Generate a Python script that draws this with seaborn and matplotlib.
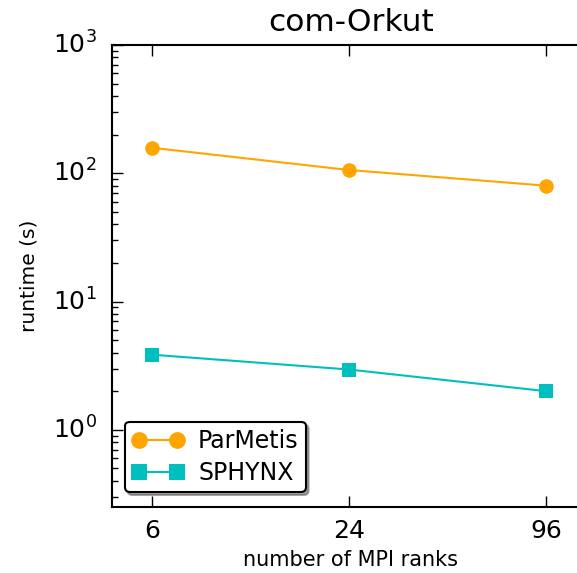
import matplotlib
matplotlib.use("Agg")
import matplotlib.pyplot as plt
import seaborn as sns
import pandas as pd
from matplotlib.ticker import FixedLocator, FixedFormatter, NullLocator, LogLocator

ranks = [6, 24, 96]
parmetis = [158, 106, 80]
sphynx = [3.85, 2.95, 2.0]
tick_labels = ["6", "24", "96"]

plt.style.use("classic")
plt.rcParams["font.family"] = ["DejaVu Sans"]

df = pd.DataFrame({
    "ranks": ranks * 2,
    "runtime": parmetis + sphynx,
    "method": ["ParMetis"] * 3 + ["SPHYNX"] * 3,
})

fig = plt.figure(figsize=(5.77, 5.73), dpi=100)
fig.patch.set_facecolor("white")
# axes extends past the right edge of the figure (right spine not visible)
ax = fig.add_axes([0.194, 0.1152, 478 / 577, 0.8063])

sns.lineplot(data=df, x="ranks", y="runtime", hue="method", style="method",
             palette={"ParMetis": "#FFA500", "SPHYNX": "#00BFBF"},
             markers={"ParMetis": "o", "SPHYNX": "s"}, dashes=False,
             markersize=10.5, markeredgewidth=0, linewidth=1.5, ax=ax, legend=True)

ax.set_xscale("log", base=2)
ax.set_yscale("log")
ax.set_xlim(4.53, 130.9)
ax.set_ylim(0.25, 1000)
ax.xaxis.set_major_locator(FixedLocator(ranks))
ax.xaxis.set_major_formatter(FixedFormatter(tick_labels))
ax.xaxis.set_minor_locator(NullLocator())
ax.yaxis.set_major_locator(LogLocator(base=10, numticks=10))
ax.yaxis.set_minor_locator(LogLocator(base=10, subs=range(2, 10), numticks=20))

ax.tick_params(axis="both", which="major", labelsize=18, direction="in", length=8, width=1, pad=9)
ax.tick_params(axis="y", which="major", pad=11)
ax.tick_params(axis="both", which="minor", direction="in", length=4, width=1)
ax.tick_params(axis="y", which="both", right=False)
for s in ax.spines.values():
    s.set_linewidth(1.5)
ax.spines["right"].set_visible(False)

ax.set_xlabel("number of MPI ranks", fontsize=15, labelpad=5)
ax.set_ylabel("runtime (s)", fontsize=14.5, labelpad=10)
ax.set_title("com-Orkut", fontsize=22.5, pad=10)

leg = ax.legend(loc="lower left", fontsize=17, shadow=True, fancybox=True,
                numpoints=2, handlelength=2.2, borderpad=0.3, borderaxespad=0,
                labelspacing=0.35, handletextpad=0.6, markerscale=1.15,
                bbox_to_anchor=(0.027, 0.032))
leg.get_frame().set_linewidth(1.5)
leg.get_frame().set_edgecolor("black")

fig.savefig("out.png", dpi=100)
